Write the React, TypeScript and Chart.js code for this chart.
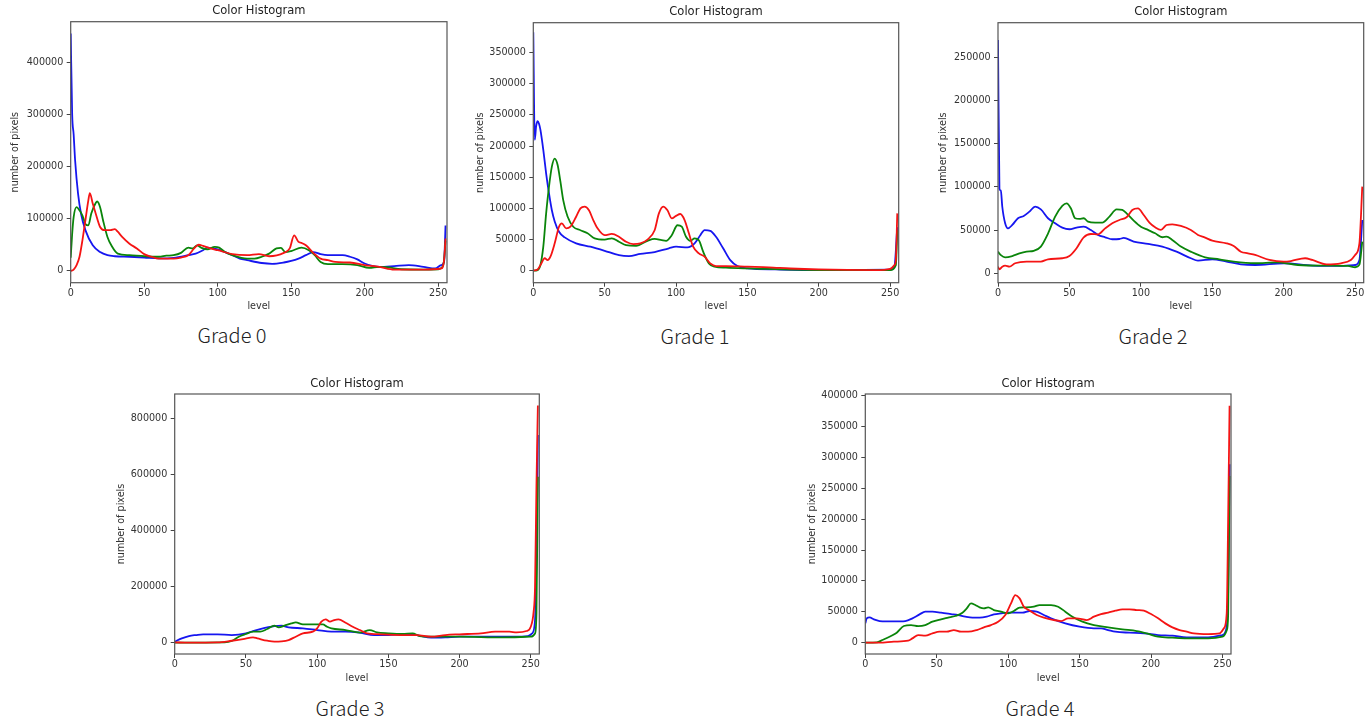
import React, { useEffect, useRef } from "react";
import { Chart, registerables } from "chart.js";
Chart.register(...registerables);

type Pt = [number, number];

const LEVEL_TICKS = [0, 50, 100, 150, 200, 250];
const G0_TICKS = [0, 100000, 200000, 300000, 400000];
const G1_TICKS = [0, 50000, 100000, 150000, 200000, 250000, 300000, 350000];
const G2_TICKS = [0, 50000, 100000, 150000, 200000, 250000];
const G3_TICKS = [0, 200000, 400000, 600000, 800000];
const G4_TICKS = [0, 50000, 100000, 150000, 200000, 250000, 300000, 350000, 400000];

// ---------- Grade 0 ----------
const g0Blue: Pt[] = [[0,455000],[1,300000],[2,262000],[3,212000],[5,148000],[7,110000],[10,78000],[15,49000],[20,36000],[25,30000],[30,28000],[40,27000],[50,25500],[60,24000],[70,25000],[80,30000],[85,33000],[90,39500],[93,44500],[97,43000],[100,41000],[105,36000],[110,30000],[115,23500],[120,20500],[130,15000],[137,13500],[145,16000],[150,19000],[155,23500],[160,30000],[165,36000],[170,32000],[175,30000],[185,30000],[190,27000],[195,22000],[200,14000],[205,9500],[210,7600],[220,9000],[230,11000],[240,7600],[248,4500],[252,11000],[254,17000],[255,87000]];
const g0Green: Pt[] = [[0,25000],[1,71000],[2,103000],[4,122000],[6,116000],[8,106000],[10,90000],[12,87000],[14,110000],[17,130000],[18,133000],[20,122000],[22,97000],[25,65000],[28,47000],[32,33000],[40,30000],[50,28000],[60,27000],[65,29000],[70,30000],[75,34500],[80,44500],[83,43000],[86,49000],[89,44000],[93,41000],[98,46000],[101,44500],[105,36000],[110,30000],[120,23500],[125,23500],[130,27000],[135,33000],[140,43000],[143,44000],[146,36000],[150,38000],[157,44500],[162,39500],[166,30000],[170,17000],[175,13000],[185,13000],[195,11000],[203,5700],[210,7600],[215,7000],[225,3000],[240,2500],[250,3000],[253,8000],[254,20000],[255,58000]];
const g0Red: Pt[] = [[0,0],[2,2500],[4,11000],[6,27000],[8,59000],[10,97000],[12,135000],[13,149000],[15,129000],[17,110000],[20,84000],[23,78000],[27,78000],[30,80000],[32,75000],[35,65000],[40,52000],[45,43000],[50,32000],[55,27000],[60,23500],[70,23500],[75,25500],[80,30000],[84,43000],[87,50000],[90,48000],[95,43000],[100,39500],[110,32000],[120,30000],[128,32000],[135,28000],[145,34500],[149,43000],[152,68000],[155,55500],[157,53500],[160,49000],[165,34500],[170,23500],[175,20500],[180,17000],[190,16000],[200,11000],[210,7600],[220,2500],[240,2500],[252,4500],[254,20000],[255,62000]];

// ---------- Grade 1 ----------
const g1Blue: Pt[] = [[0,383000],[1,210000],[2,232000],[3,240000],[4,236000],[5,226000],[7,194000],[9,156000],[11,124000],[13,97000],[15,79000],[18,62600],[22,53500],[30,44000],[40,38500],[50,32000],[60,25000],[67,23500],[75,27000],[85,30000],[95,36000],[100,38500],[108,37500],[113,44000],[117,57000],[120,65000],[124,64000],[128,54500],[133,36000],[138,17000],[143,7500],[150,3700],[170,2000],[200,1000],[250,1500],[253,6400],[255,70000]];
const g1Green: Pt[] = [[0,0],[3,1000],[5,9000],[7,38500],[9,92000],[11,135000],[13,167000],[15,180000],[17,170000],[19,143000],[21,113000],[24,87000],[28,70600],[33,65000],[38,60000],[43,52000],[50,50000],[55,52000],[60,46500],[65,41000],[72,40000],[80,48000],[85,51000],[90,49000],[93,48000],[97,57000],[101,73000],[104,70600],[107,54500],[110,48000],[113,52000],[116,49000],[119,30500],[123,11800],[127,6400],[135,4800],[150,3700],[200,1000],[250,1000],[254,9000],[255,65000]];
const g1Red: Pt[] = [[0,0],[3,2000],[5,9000],[8,20000],[10,17000],[12,22500],[15,44000],[18,70600],[20,76000],[23,68000],[26,70600],[30,86700],[33,100000],[36,103000],[39,97000],[42,81300],[45,68000],[50,57000],[55,59000],[60,54500],[65,46500],[70,42800],[75,44000],[80,50000],[85,65000],[88,92000],[91,103000],[94,97000],[97,84000],[100,88000],[103,91000],[106,81300],[109,60000],[112,38500],[116,27800],[120,22500],[124,11800],[128,7500],[135,7500],[150,6400],[165,5400],[180,3500],[200,2000],[240,1000],[250,3000],[253,9000],[254,17000],[255,92000]];

// ---------- Grade 2 ----------
const g2Blue: Pt[] = [[0,270000],[1,98000],[2,95700],[3,77000],[5,57900],[7,52000],[10,56000],[14,63700],[18,66400],[22,71400],[26,77200],[30,74000],[35,63700],[40,58000],[45,52900],[50,51000],[55,52900],[60,54000],[65,50000],[70,44400],[75,41700],[80,39400],[85,39700],[88,40900],[95,36700],[105,34000],[115,30900],[125,25000],[135,17400],[140,14700],[150,16200],[160,13500],[170,10400],[180,9600],[200,11600],[220,8900],[240,8500],[250,9600],[253,15400],[255,61700]];
const g2Green: Pt[] = [[0,25000],[2,21000],[5,18500],[10,20000],[15,23000],[20,25000],[25,26000],[30,30900],[35,46000],[40,65600],[45,78000],[48,81000],[51,75200],[54,63700],[57,62900],[60,63700],[63,59800],[68,58600],[73,58600],[78,65600],[83,74000],[87,73300],[90,69400],[95,61000],[100,54000],[105,50200],[110,46300],[115,41700],[118,42400],[122,38600],[128,30900],[135,25000],[145,18500],[155,16200],[165,13500],[180,11600],[195,12700],[210,9600],[230,8900],[245,8500],[250,7000],[253,10000],[255,36700]];
const g2Red: Pt[] = [[0,7700],[1,4600],[3,7700],[5,8900],[8,7700],[12,11600],[20,13500],[30,13500],[35,16200],[45,17400],[50,20000],[55,29000],[60,41700],[65,45500],[70,45100],[75,52000],[80,57900],[85,61700],[90,64800],[94,73300],[98,75200],[102,67500],[106,58600],[110,53200],[114,50200],[118,55900],[122,56700],[128,54800],[135,50200],[140,44400],[145,41300],[150,37800],[160,34700],[165,31600],[170,25000],[175,23100],[180,21200],[190,15400],[200,13500],[205,14200],[215,17400],[220,15400],[230,10400],[240,11600],[247,15400],[250,21200],[253,34700],[255,100300]];

// ---------- Grade 3 ----------
const g3Blue: Pt[] = [[0,3600],[5,15500],[10,23800],[15,27400],[20,30000],[30,30000],[40,27400],[50,33300],[55,41700],[60,48800],[65,54800],[70,59500],[75,60700],[80,54800],[90,51200],[100,45200],[110,39300],[120,39300],[130,35700],[140,27400],[150,27400],[160,30000],[170,27400],[180,17900],[190,19000],[200,21400],[220,21400],[240,21400],[248,23800],[251,33000],[253,81000],[254,300000],[255,741700]];
const g3Green: Pt[] = [[0,0],[35,1000],[40,6000],[45,21400],[50,31000],[55,39300],[60,39300],[65,48800],[70,60700],[73,54800],[77,60700],[82,69000],[85,72600],[90,65500],[95,65500],[100,65500],[104,65500],[107,57100],[110,51200],[120,45200],[130,35700],[137,45200],[142,36900],[150,33300],[160,31000],[167,33300],[172,23800],[180,21400],[200,21400],[230,19000],[250,21400],[253,33000],[254,105000],[255,592900]];
const g3Red: Pt[] = [[0,1200],[10,0],[30,1000],[40,7000],[48,13000],[55,19000],[58,15500],[65,7000],[70,3600],[75,4800],[80,9500],[85,21400],[90,33300],[97,39300],[100,51200],[103,75000],[106,83300],[109,75000],[112,81000],[115,83300],[120,71400],[125,57100],[130,45200],[135,33300],[145,30000],[160,27400],[170,27400],[180,21400],[190,27400],[200,30000],[215,33300],[225,39300],[235,39300],[240,36900],[247,41700],[250,57100],[252,110000],[253,200000],[254,560000],[255,847000]];

// ---------- Grade 4 ----------
const g4Blue: Pt[] = [[0,31300],[1,39400],[3,41000],[6,37800],[10,35100],[15,34500],[20,34500],[28,35100],[33,39400],[38,45900],[42,50200],[47,50200],[53,48600],[60,46400],[65,44800],[70,42100],[75,40500],[80,40500],[85,42100],[90,45900],[95,47500],[100,48600],[110,48600],[115,51300],[120,50200],[125,44800],[130,39400],[140,31300],[150,25900],[160,23200],[165,23200],[170,20500],[175,17800],[185,16200],[195,15100],[205,12400],[215,11300],[225,8600],[240,8600],[250,12400],[253,26000],[254,80000],[255,288800]];
const g4Green: Pt[] = [[0,0],[8,500],[12,4300],[18,10800],[22,16200],[27,27000],[32,28600],[37,27000],[42,28600],[47,34000],[53,37800],[58,40500],[63,43200],[68,48600],[71,55600],[74,63700],[77,61000],[80,57200],[83,55600],[86,57200],[90,52900],[95,50200],[100,47500],[104,51300],[108,56700],[112,57200],[118,58300],[122,61000],[130,61000],[135,58300],[140,50200],[145,42100],[152,34000],[160,28600],[170,24800],[180,21600],[190,18900],[197,15100],[205,9700],[215,8100],[225,7000],[240,7000],[250,9700],[253,20000],[254,45000],[255,270000]];
const g4Red: Pt[] = [[0,0],[10,0],[20,1600],[30,3200],[33,7000],[37,12400],[42,11300],[47,15100],[52,17800],[57,17800],[62,20500],[67,17800],[72,17800],[78,20500],[83,24800],[88,28600],[93,34000],[98,44800],[102,63700],[105,77000],[108,71800],[111,58300],[114,53400],[120,44800],[125,40500],[132,36700],[137,35100],[142,39400],[148,39400],[155,36700],[160,42100],[165,46400],[170,48600],[175,51800],[180,54000],[185,54000],[190,52900],[195,51800],[200,46400],[205,39400],[210,31300],[215,24800],[220,20500],[225,17800],[230,15100],[240,14000],[248,15100],[251,23200],[253,47500],[254,200000],[255,383600]];

const GRADES = ["Grade 0", "Grade 1", "Grade 2", "Grade 3", "Grade 4"];

type PanelDef = {
  grade: string;
  red: Pt[]; green: Pt[]; blue: Pt[];
  yTicks: number[]; yMin: number; yMax: number;
  plot: { l: number; t: number; r: number; b: number };
  titleY: number; yLabelX: number; levelY: number; gradeX: number; gradeY: number;
};

const PANELS: PanelDef[] = [
  { grade: GRADES[0], red: g0Red, green: g0Green, blue: g0Blue, yTicks: G0_TICKS, yMin: -22750, yMax: 477750,
    plot: { l: 70.7, t: 21.7, r: 447, b: 282.7 }, titleY: 11.5, yLabelX: 16, levelY: 306, gradeX: 232, gradeY: 335 },
  { grade: GRADES[1], red: g1Red, green: g1Green, blue: g1Blue, yTicks: G1_TICKS, yMin: -19270, yMax: 398200,
    plot: { l: 533.3, t: 22.7, r: 898.7, b: 282.7 }, titleY: 12.5, yLabelX: 481, levelY: 306, gradeX: 695, gradeY: 336 },
  { grade: GRADES[2], red: g2Red, green: g2Green, blue: g2Blue, yTicks: G2_TICKS, yMin: -10880, yMax: 290000,
    plot: { l: 998, t: 22.7, r: 1363.7, b: 282.7 }, titleY: 12.5, yLabelX: 944, levelY: 306, gradeX: 1153, gradeY: 336 },
  { grade: GRADES[3], red: g3Red, green: g3Green, blue: g3Blue, yTicks: G3_TICKS, yMin: -40360, yMax: 888200,
    plot: { l: 174.7, t: 394, r: 539.3, b: 654 }, titleY: 384.5, yLabelX: 121.7, levelY: 678, gradeX: 350, gradeY: 708 },
  { grade: GRADES[4], red: g4Red, green: g4Green, blue: g4Blue, yTicks: G4_TICKS, yMin: -18300, yMax: 402750,
    plot: { l: 865.3, t: 394, r: 1231, b: 654 }, titleY: 384.5, yLabelX: 812.3, levelY: 678, gradeX: 1040, gradeY: 708 },
];

const AX_FONT = { family: "'DejaVu Sans', sans-serif", size: 9.6, weight: "normal" as const };
const TITLE_FONT = { family: "'DejaVu Sans', sans-serif", size: 11.5, weight: "normal" as const };

function Panel({ p }: { p: PanelDef }) {
  const ref = useRef<HTMLCanvasElement>(null);
  const cl = Math.round(p.yLabelX - 5.76);
  const ct = Math.round(p.plot.t - 24);
  const cr = Math.round(p.plot.r + 12);
  const cb = Math.round(p.levelY + 6.76);
  const w = cr - cl;
  const h = cb - ct;

  useEffect(() => {
    const titleLH = TITLE_FONT.size * 1.2;
    const pb = p.plot.t - p.titleY - titleLH / 2;
    const pt = p.plot.t - ct - titleLH - pb;
    const frame = {
      id: "frame",
      afterDatasetsDraw(chart: any) {
        const { ctx, chartArea: a } = chart;
        ctx.save();
        ctx.strokeStyle = "#555";
        ctx.lineWidth = 1.2;
        ctx.strokeRect(a.left, a.top, a.right - a.left, a.bottom - a.top);
        ctx.restore();
      },
    };
    const toXY = (arr: Pt[]) => arr.map(([x, y]) => ({ x, y }));
    const chart = new Chart(ref.current as HTMLCanvasElement, {
      type: "line",
      data: {
        datasets: [
          { data: toXY(p.red), borderColor: "#f51414" },
          { data: toXY(p.green), borderColor: "#0a850a" },
          { data: toXY(p.blue), borderColor: "#1616f0" },
        ],
      },
      options: {
        animation: false,
        responsive: false,
        layout: { padding: { left: 0, top: 0, bottom: 0, right: cr - p.plot.r } },
        elements: {
          point: { radius: 0 },
          line: { borderWidth: 1.8, cubicInterpolationMode: "monotone", fill: false },
        },
        plugins: {
          legend: { display: false },
          tooltip: { enabled: false },
          title: {
            display: true,
            text: "Color Histogram",
            fullSize: false,
            color: "#222",
            font: TITLE_FONT,
            padding: { top: pt, bottom: pb },
          },
        },
        scales: {
          x: {
            type: "linear",
            min: 0,
            max: 256,
            afterBuildTicks: (s: any) => { s.ticks = LEVEL_TICKS.map((v) => ({ value: v })); },
            afterFit: (s: any) => { s.height = cb - p.plot.b; },
            grid: { drawOnChartArea: false, drawTicks: true, tickLength: 4, color: "#444" },
            border: { display: false },
            ticks: { autoSkip: false, maxRotation: 0, padding: 1, color: "#333", font: AX_FONT, callback: (v: any) => String(v) },
            title: { display: true, text: "level", color: "#333", font: AX_FONT, padding: { top: 0, bottom: 1 } },
          },
          y: {
            type: "linear",
            min: p.yMin,
            max: p.yMax,
            afterBuildTicks: (s: any) => { s.ticks = p.yTicks.map((v) => ({ value: v })); },
            afterFit: (s: any) => { s.width = p.plot.l - cl; },
            grid: { drawOnChartArea: false, drawTicks: true, tickLength: 4, color: "#444" },
            border: { display: false },
            ticks: { autoSkip: false, padding: 3.4, color: "#333", font: AX_FONT, callback: (v: any) => String(v) },
            title: { display: true, text: "number of pixels", color: "#333", font: AX_FONT, padding: { top: 0, bottom: 0 } },
          },
        },
      } as any,
      plugins: [frame],
    });
    return () => chart.destroy();
  }, []);

  return (
    <>
      <canvas
        ref={ref}
        width={w}
        height={h}
        style={{ position: "absolute", left: cl, top: ct, width: w, height: h }}
      />
      <div
        style={{
          position: "absolute",
          left: p.gradeX - 100,
          width: 200,
          top: p.gradeY - 14,
          height: 28,
          lineHeight: "28px",
          textAlign: "center",
          fontFamily: "'Noto Sans CJK SC', 'Noto Sans', sans-serif",
          fontSize: 20,
          fontWeight: 300,
          color: "#222",
        }}
      >
        {p.grade}
      </div>
    </>
  );
}

export default function App() {
  return (
    <div
      style={{
        position: "fixed",
        left: 0,
        top: 0,
        width: 1368,
        height: 724,
        background: "#fff",
        overflow: "hidden",
      }}
    >
      {PANELS.map((p) => (
        <Panel key={p.grade} p={p} />
      ))}
    </div>
  );
}
